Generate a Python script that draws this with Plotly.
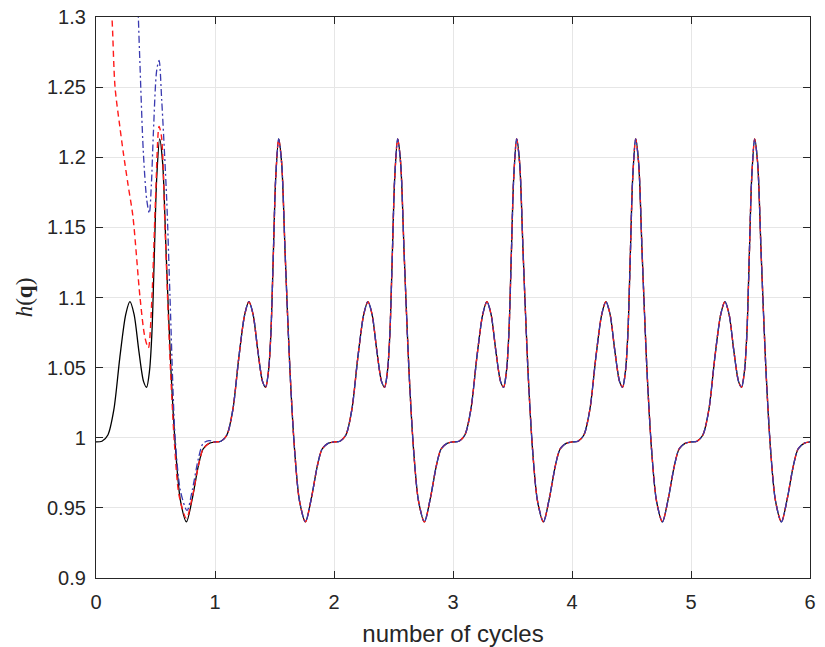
import plotly.graph_objects as go

# ---- data ----
# one period of the steady-state (black) curve: phase within a cycle -> h(q)
cycle_phase = [0.0, 0.05, 0.10, 0.15, 0.20, 0.25, 0.285, 0.32, 0.36, 0.40, 0.425,
               0.45, 0.47, 0.49, 0.51, 0.535, 0.56, 0.59, 0.63, 0.67, 0.71, 0.76,
               0.81, 0.86, 0.90, 0.95]
cycle_h = [0.997, 0.9975, 1.002, 1.020, 1.057, 1.088, 1.097, 1.088, 1.062, 1.040, 1.036,
           1.048, 1.075, 1.130, 1.185, 1.213, 1.196, 1.130, 1.048, 0.990, 0.955, 0.940,
           0.957, 0.980, 0.992, 0.996]
n_cycles = 6
end_h = 0.997

# transient of the red dashed trajectory during the first cycle
red_x = [0.10, 0.134, 0.16, 0.20, 0.23, 0.27, 0.31, 0.37, 0.41, 0.44, 0.47, 0.50, 0.53,
         0.55, 0.58, 0.62, 0.66, 0.70, 0.76, 0.81, 0.86, 0.90, 0.95]
red_h = [1.34, 1.300, 1.250, 1.222, 1.203, 1.180, 1.158, 1.100, 1.072, 1.064, 1.100, 1.170, 1.222,
         1.215, 1.150, 1.060, 0.995, 0.958, 0.9425, 0.958, 0.980, 0.992, 0.996]

# transient of the blue dash-dot trajectory during the first cycle
blue_x = [0.345, 0.356, 0.37, 0.397, 0.426, 0.448, 0.465, 0.482, 0.51, 0.53, 0.552, 0.594,
          0.622, 0.665, 0.71, 0.765, 0.81, 0.86, 0.90, 0.95]
blue_h = [1.34, 1.300, 1.265, 1.205, 1.170, 1.160, 1.180, 1.217, 1.262, 1.269, 1.241, 1.170,
          1.100, 1.000, 0.962, 0.948, 0.963, 0.985, 0.996, 0.998]

x_ticks = [0, 1, 2, 3, 4, 5, 6]
y_ticks = [0.9, 0.95, 1.0, 1.05, 1.1, 1.15, 1.2, 1.25, 1.3]
y_labels = ["0.9", "0.95", "1", "1.05", "1.1", "1.15", "1.2", "1.25", "1.3"]

# ---- build series ----
def periodic(start_cycle):
    xs, ys = [], []
    for k in range(start_cycle, n_cycles):
        for p, h in zip(cycle_phase, cycle_h):
            xs.append(k + p)
            ys.append(h)
    xs.append(n_cycles)
    ys.append(end_h)
    return xs, ys

bx, by = periodic(0)
px_, py_ = periodic(1)
rx, ry = red_x + px_, red_h + py_
ux, uy = blue_x + px_, blue_h + py_

fig = go.Figure()
fig.add_trace(go.Scatter(x=bx, y=by, mode="lines",
                         line=dict(color="black", width=1.3, shape="spline", smoothing=0.8)))
fig.add_trace(go.Scatter(x=rx, y=ry, mode="lines",
                         line=dict(color="#ff1a1a", width=1.4, dash="6px,4px",
                                   shape="spline", smoothing=0.8)))
fig.add_trace(go.Scatter(x=ux, y=uy, mode="lines",
                         line=dict(color="#3a3ab0", width=1.3, dash="7px,3px,2px,3px",
                                   shape="spline", smoothing=0.8)))

tick_font = dict(family="Liberation Sans, Arial, sans-serif", size=20, color="#262626")
axis_common = dict(showline=True, linecolor="#262626", linewidth=1.2, mirror="ticks",
                   ticks="inside", ticklen=7, tickcolor="#262626", tickwidth=1,
                   showgrid=True, gridcolor="#e6e6e6", gridwidth=1, zeroline=False,
                   automargin=False, tickfont=tick_font, ticklabeloverflow="allow")

fig.update_xaxes(range=[0, 6], tickvals=x_ticks, ticktext=[str(v) for v in x_ticks],
                 title=dict(text="number of cycles", standoff=13,
                            font=dict(family="Liberation Sans, Arial, sans-serif", size=24, color="#262626")),
                 ticklabelstandoff=6, **axis_common)
fig.update_yaxes(range=[0.9, 1.3], tickvals=y_ticks, ticktext=y_labels,
                 title=dict(text="<i>h</i>(<b>q</b>)", standoff=7,
                            font=dict(family="Liberation Serif, DejaVu Serif, serif", size=23, color="#262626")),
                 ticklabelstandoff=5, **axis_common)

fig.update_layout(width=825, height=647, showlegend=False,
                  margin=dict(l=96, r=15, t=17, b=69),
                  plot_bgcolor="white", paper_bgcolor="white")

# remove the default page margin so the figure fills the window exactly
fig.write_html("out.html", config={"displayModeBar": False},
               post_script="document.body.style.margin='0';")
